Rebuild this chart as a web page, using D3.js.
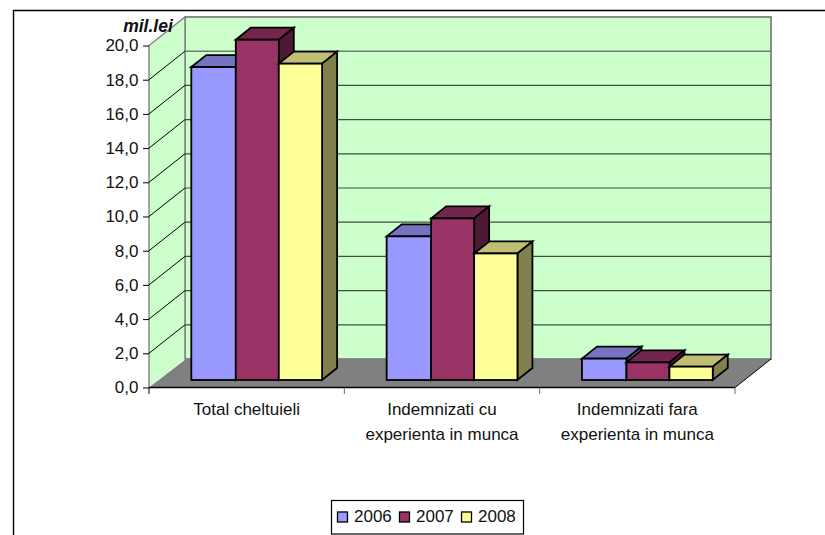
<!DOCTYPE html>
<html><head><meta charset="utf-8">
<script src="https://cdn.jsdelivr.net/npm/d3@7"></script>
<style>html,body{margin:0;padding:0;background:#fff}svg{display:block}text{font-family:"Liberation Sans",Arial,sans-serif;fill:#111}</style>
</head><body><svg id="c" width="825" height="535"></svg>
<script>
const categories = [["Total cheltuieli"],["Indemnizati cu","experienta in munca"],["Indemnizati fara","experienta in munca"]];
const years = ["2006","2007","2008"];
const values2006 = [18.3, 8.4, 1.25];
const values2007 = [19.9, 9.45, 1.03];
const values2008 = [18.5, 7.4, 0.78];
const seriesValues = [values2006, values2007, values2008];
const yTicks = d3.range(0, 21, 2);
const unitLabel = "mil.lei";
const frontColors = ["#9999FF","#993366","#FFFF99"];
const topColors = ["#7373BF","#73264D","#BFBF73"];
const sideColors = ["#4D4D80","#4D1933","#80804D"];

const svg = d3.select("#c");
const wallDx = 36, wallDy = -28.5;
const barDx = 15, barDy = -12;
const y = d3.scaleLinear().domain([0,20]).range([387.5,45.5]);
const x = d3.scaleBand().domain([0,1,2]).range([149,735]);
const barOffsetX = 42.3, barLift = -7.5;
const barEdges = [0,44.5,87.5,130.8];
const pts = a => a.map(p=>p.join(",")).join(" ");

// frame
svg.append("path").attr("d","M13.5,535V10.5H825").attr("fill","none").attr("stroke","#000").attr("stroke-width",1.4);

const xL = x.range()[0], xR = x.range()[1], y0 = y(0), yT = y(20);
// back wall
svg.append("rect").attr("x",xL+wallDx).attr("y",yT+wallDy).attr("width",xR-xL).attr("height",y0-yT)
  .attr("fill","#CCFFCC").attr("stroke","#808080").attr("stroke-width",1.8);
// left wall
svg.append("polygon").attr("points",pts([[xL,y0],[xL,yT],[xL+wallDx,yT+wallDy],[xL+wallDx,y0+wallDy]]))
  .attr("fill","#CCFFCC");
svg.append("path").attr("d",`M${xL},${y0}V${yT}L${xL+wallDx},${yT+wallDy}V${y0+wallDy}`).attr("fill","none").attr("stroke","#808080").attr("stroke-width",1.4);
// floor
svg.append("polygon").attr("points",pts([[xL,y0],[xR,y0],[xR+wallDx,y0+wallDy],[xL+wallDx+1,y0+wallDy]]))
  .attr("fill","#808080");
// gridlines
yTicks.slice(1).forEach(t=>{
  if (t<20) svg.append("line").attr("x1",xL+wallDx).attr("x2",xR+wallDx).attr("y1",y(t)+wallDy).attr("y2",y(t)+wallDy).attr("stroke",t==18?"#6f7f6f":"#405040").attr("stroke-width",t==18?1.6:1.2);
  if (t<20) svg.append("line").attr("x1",xL).attr("x2",xL+wallDx).attr("y1",y(t)).attr("y2",y(t)+wallDy).attr("stroke","#000");
});
svg.append("line").attr("x1",xR).attr("x2",xR+wallDx).attr("y1",y0).attr("y2",y0+wallDy).attr("stroke","#000");

// bars
const yb = v => y(v)+barLift;
categories.forEach((c,ci)=>{
  seriesValues.forEach((vals,si)=>{
    const v = vals[ci];
    const bx = x(ci)+barOffsetX+barEdges[si], tx = yb(v), by = yb(0), w = barEdges[si+1]-barEdges[si];
    const g = svg.append("g").attr("stroke","#000").attr("stroke-width",1.8).attr("stroke-linejoin","miter");
    g.append("polygon").attr("points",pts([[bx,tx],[bx+barDx,tx+barDy],[bx+w+barDx,tx+barDy],[bx+w,tx]])).attr("fill",topColors[si]);
    g.append("polygon").attr("points",pts([[bx+w,tx],[bx+w+barDx,tx+barDy],[bx+w+barDx,by+barDy],[bx+w,by]])).attr("fill",sideColors[si]);
    g.append("rect").attr("x",bx).attr("y",tx).attr("width",w).attr("height",by-tx).attr("fill",frontColors[si]);
  });
});

// axes
const yAxis = d3.axisLeft(y).tickValues(yTicks).tickSize(6).tickPadding(4.5).tickFormat(d=>d3.format(".1f")(d).replace(".",","));
const ga = svg.append("g").attr("transform",`translate(${xL},0)`).call(yAxis);
ga.select(".domain").remove();
ga.selectAll("text").attr("font-size",17).attr("font-family",'"Liberation Sans",Arial,sans-serif').attr("fill","#111");
ga.selectAll("line").attr("stroke","#000");

svg.append("line").attr("x1",xL).attr("x2",xR).attr("y1",y0).attr("y2",y0).attr("stroke","#000").attr("stroke-width",1.3);
[0,1,2,3].forEach(i=>{
  const px = xL+i*x.bandwidth();
  svg.append("line").attr("x1",px).attr("x2",px).attr("y1",y0).attr("y2",y0+6.5).attr("stroke",i==0?"#000":"#666");
});
const labelBaselines = [415,440];
categories.forEach((c,i)=>{
  c.forEach((s,j)=>svg.append("text").attr("x",x(i)+x.bandwidth()/2).attr("y",labelBaselines[j]).attr("text-anchor","middle").attr("font-size",17).text(s));
});

svg.append("text").attr("x",148).attr("y",31.5).attr("text-anchor","middle").attr("font-size",17.5).attr("font-weight","bold").attr("font-style","italic").text(unitLabel);

// legend
const lg = svg.append("g");
lg.append("rect").attr("x",331.5).attr("y",500.5).attr("width",192).attr("height",33.5).attr("fill","#fff").attr("stroke","#000").attr("stroke-width",1.2);
years.forEach((yr,i)=>{
  const lx = 337+i*62;
  lg.append("rect").attr("x",lx+.5).attr("y",512).attr("width",10).attr("height",10).attr("fill",frontColors[i]).attr("stroke","#000").attr("stroke-width",1.3);
  lg.append("text").attr("x",lx+17).attr("y",521.5).attr("font-size",17).text(yr);
});
</script></body></html>
